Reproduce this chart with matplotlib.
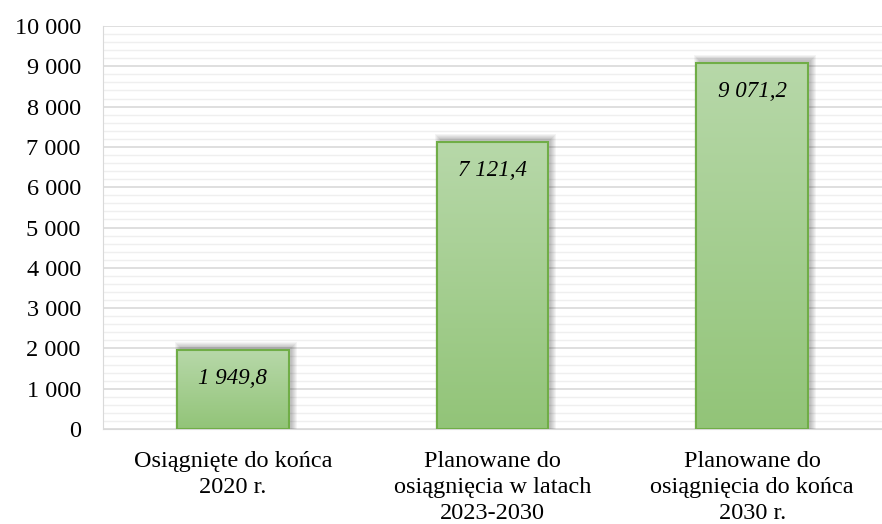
import numpy as np
import matplotlib.pyplot as plt
from matplotlib.colors import LinearSegmentedColormap
from matplotlib.patches import Rectangle

categories = ['Osiągnięte do końca\n2020 r.',
              'Planowane do\nosiągnięcia w latach\n2023-2030',
              'Planowane do\nosiągnięcia do końca\n2030 r.']
values = [1949.8, 7121.4, 9071.2]
labels = ['1 949,8', '7 121,4', '9 071,2']
yticks = np.arange(0, 10001, 1000)
ytick_labels = ['0'] + ['{} 000'.format(t // 1000) for t in yticks[1:]]

plt.rcParams['font.family'] = ['Liberation Serif', 'DejaVu Serif']

fig = plt.figure(figsize=(8.82, 5.24), dpi=100)
ax = fig.add_axes([103 / 882, 1 - 429 / 524, 779 / 882, 403 / 524])

x = np.arange(len(values))
width = 0.43
px_x = 3 / 779      # one pixel in x data units
px_y = 10000 / 403  # one pixel in y data units
cmap = LinearSegmentedColormap.from_list('g', ['#92c478', '#b7d8a9'])
grad = np.linspace(0, 1, 256).reshape(-1, 1)

for xi, v, lab in zip(x, values, labels):
    # soft shadow, shifted up-right
    for k in range(6):
        d = k * 1.0
        ax.add_patch(Rectangle((xi - width / 2 + (3 - d) * px_x, 0),
                               width + 2 * d * px_x,
                               v + (3 + d) * px_y, color='black', alpha=0.045,
                               lw=0, zorder=2))
    im = ax.imshow(grad, cmap=cmap, aspect='auto', origin='lower',
                   extent=[xi - width / 2, xi + width / 2, 0, v], zorder=3)
    rect = Rectangle((xi - width / 2, 0), width, v, fill=False,
                     edgecolor='#70ad47', lw=1.5, zorder=4)
    ax.add_patch(rect)
    im.set_clip_path(rect)
    ax.text(xi, v - 28 * px_y, lab, ha='center', va='center', fontsize=16.5,
            style='italic', zorder=5)

ax.set_xlim(-0.5, 2.5)
ax.set_ylim(0, 10000)
ax.set_yticks(yticks)
ax.set_yticklabels(ytick_labels, fontsize=17.5)
ax.set_yticks(np.arange(0, 10001, 200), minor=True)
ax.set_xticks(x)
ax.set_xticklabels(categories, fontsize=17.5, linespacing=1.3)
ax.tick_params(axis='both', length=0)
ax.tick_params(axis='y', which='major', pad=16)
ax.tick_params(axis='y', which='minor', length=0)
ax.tick_params(axis='x', pad=16)
ax.grid(axis='y', which='major', color='#d9d9d9', lw=1.2, zorder=0)
ax.grid(axis='y', which='minor', color='#efefef', lw=1.0, zorder=0)
ax.set_axisbelow(True)
for s in ['top', 'right']:
    ax.spines[s].set_visible(False)
ax.spines['left'].set_color('#d9d9d9')
ax.spines['bottom'].set_color('#d9d9d9')

fig.savefig('out.png', dpi=100)
